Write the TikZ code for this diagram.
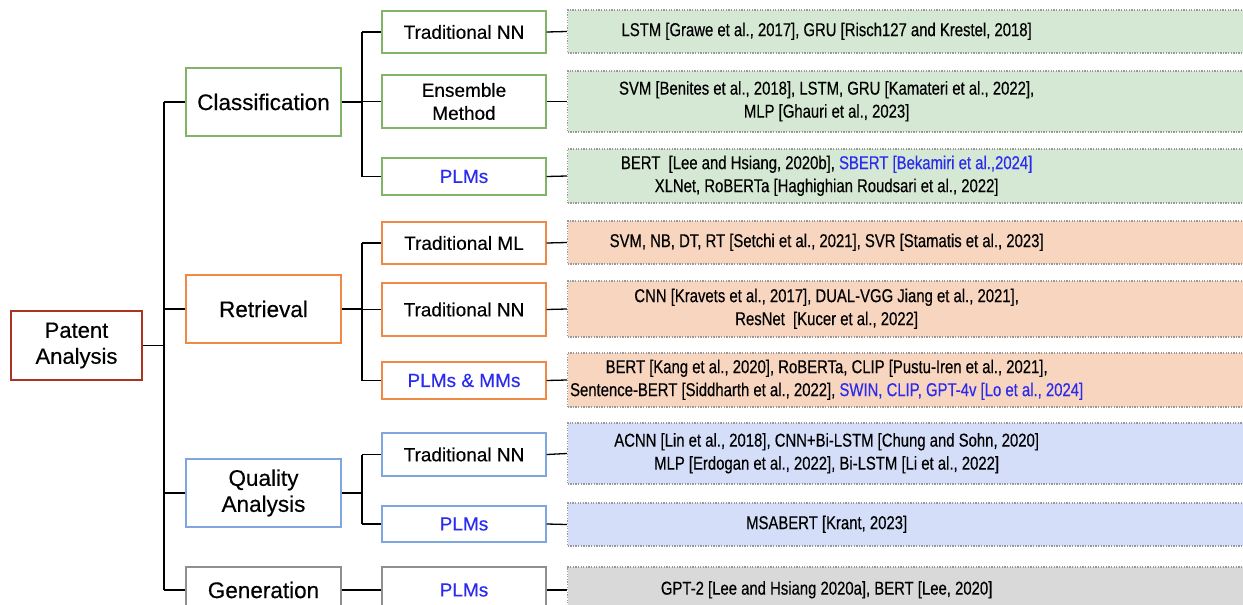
\documentclass[tikz,border=0pt]{standalone}
\usepackage{fontspec}
\setmainfont[FakeBold=0.35]{Liberation Sans}
\newfontfamily\leaffont[FakeStretch=0.8,FakeBold=0.35]{Liberation Sans}
\definecolor{greenF}{HTML}{D5E8D4}
\definecolor{greenD}{HTML}{82B366}
\definecolor{orangeF}{HTML}{F8D5BF}
\definecolor{orangeD}{HTML}{EE8A45}
\definecolor{blueF}{HTML}{D4DEF9}
\definecolor{blueD}{HTML}{7EA6E0}
\definecolor{grayF}{HTML}{D9D9D9}
\definecolor{grayD}{HTML}{8F8F8F}
\definecolor{leafD}{HTML}{999999}
\definecolor{blueT}{HTML}{2B2BF0}
\definecolor{rootD}{HTML}{AC3322}
\newcommand{\lft}[1]{\makebox[690pt][l]{\makebox[518pt][c]{\begin{tabular}{@{}c@{}}#1\end{tabular}}}}
\tikzset{
  rootbox/.style={draw=rootD, line width=2.5pt, fill=white, minimum width=131pt, minimum height=69pt, align=center, inner sep=0pt, font=\fontsize{22}{26}\selectfont},
  lvlone/.style={draw=#1, line width=1.3pt, fill=white, minimum width=155pt, minimum height=68pt, align=center, inner sep=0pt, font=\fontsize{22.5}{26}\selectfont},
  lvltwo/.style={draw=#1, line width=1.3pt, fill=white, minimum width=164pt, align=center, inner sep=0pt, font=\fontsize{19}{23}\selectfont},
  leafbox/.style={draw=leafD, fill=#1, line width=1.3pt, dash pattern=on 1.3pt off 1.3pt, anchor=west, inner xsep=0pt, inner ysep=0pt, font=\leaffont\fontsize{18.6}{23}\selectfont},
  conn/.style={draw=black, line width=1.3pt},
}
\begin{document}
\begin{tikzpicture}[x=1pt,y=-1pt]
\useasboundingbox (0,0) rectangle (1243,605);
\clip (0,0) rectangle (1243,605);
% root and level one
\node[rootbox] (root) at (76.5,345.5) {Patent\\Analysis};
\node[lvlone=greenD] (cls) at (263.5,102) {Classification};
\node[lvlone=orangeD] (ret) at (263.5,309) {Retrieval};
\node[lvlone=blueD] (qa) at (263.5,493) {Quality\\Analysis};
\node[lvlone=grayD, minimum height=46pt] (gen) at (263.5,590) {Generation};
% level two
\node[lvltwo=greenD, minimum height=42pt] (c1) at (464,32) {Traditional NN};
\node[lvltwo=greenD, minimum height=53pt] (c2) at (464,101.5) {Ensemble\\Method};
\node[lvltwo=greenD, minimum height=37pt, text=blueT] (c3) at (464,176.5) {PLMs};
\node[lvltwo=orangeD, minimum height=42pt] (r1) at (464,243) {Traditional ML};
\node[lvltwo=orangeD, minimum height=53pt] (r2) at (464,309.5) {Traditional NN};
\node[lvltwo=orangeD, minimum height=37pt, text=blueT] (r3) at (464,380.5) {PLMs \& MMs};
\node[lvltwo=blueD, minimum height=43pt] (q1) at (464,454.5) {Traditional NN};
\node[lvltwo=blueD, minimum height=36pt, text=blueT] (q2) at (464,524) {PLMs};
\node[lvltwo=grayD, minimum height=46pt, text=blueT] (g1) at (464,590) {PLMs};
% leaves
\node[leafbox=greenF, minimum height=43pt] (lc1) at (567,31.5) {\lft{LSTM [Grawe et al., 2017], GRU [Risch127 and Krestel, 2018]}};
\node[leafbox=greenF, minimum height=61pt] (lc2) at (567,101.5) {\lft{SVM [Benites et al., 2018], LSTM, GRU [Kamateri et al., 2022],\\MLP [Ghauri et al., 2023]}};
\node[leafbox=greenF, minimum height=54pt] (lc3) at (567,176) {\lft{BERT\ \ [Lee and Hsiang, 2020b], \textcolor{blueT}{SBERT [Bekamiri et al.,2024]}\\XLNet, RoBERTa [Haghighian Roudsari et al., 2022]}};
\node[leafbox=orangeF, minimum height=43pt] (lr1) at (567,242.5) {\lft{SVM, NB, DT, RT [Setchi et al., 2021], SVR [Stamatis et al., 2023]}};
\node[leafbox=orangeF, minimum height=56pt] (lr2) at (567,309) {\lft{CNN [Kravets et al., 2017], DUAL-VGG Jiang et al., 2021],\\ResNet\ \ [Kucer et al., 2022]}};
\node[leafbox=orangeF, minimum height=54pt] (lr3) at (567,380) {\lft{BERT [Kang et al., 2020], RoBERTa, CLIP [Pustu-Iren et al., 2021],\\Sentence-BERT [Siddharth et al., 2022], \textcolor{blueT}{SWIN, CLIP, GPT-4v [Lo et al., 2024]}}};
\node[leafbox=blueF, minimum height=61pt] (lq1) at (567,453.5) {\lft{ACNN [Lin et al., 2018], CNN+Bi-LSTM [Chung and Sohn, 2020]\\MLP [Erdogan et al., 2022], Bi-LSTM [Li et al., 2022]}};
\node[leafbox=blueF, minimum height=43pt] (lq2) at (567,524.5) {\lft{MSABERT [Krant, 2023]}};
\node[leafbox=grayF, minimum height=46pt] (lg1) at (567,590) {\lft{GPT-2 [Lee and Hsiang 2020a], BERT [Lee, 2020]}};
% connectors
\coordinate (tr) at (164,0);
\coordinate (br) at (362,0);
\draw[conn] (root.east) -- (root.east -| tr);
\draw[conn] (cls.west -| tr) -- (gen.west -| tr);
\foreach \n in {cls,ret,qa,gen} \draw[conn] (\n.west -| tr) -- (\n.west);
\draw[conn] (cls.east) -- (cls.east -| br);
\draw[conn] (ret.east) -- (ret.east -| br);
\draw[conn] (qa.east) -- (qa.east -| br);
\draw[conn] (br |- c1.west) -- (br |- c3.west);
\draw[conn] (br |- r1.west) -- (br |- r3.west);
\draw[conn] (br |- q1.west) -- (br |- q2.west);
\foreach \n in {c1,c2,c3,r1,r2,r3,q1,q2} \draw[conn] (br |- \n.west) -- (\n.west);
\draw[conn] (gen.east) -- (g1.west);
\draw[conn] (c1.east) -- (lc1.west);
\draw[conn] (c2.east) -- (lc2.west);
\draw[conn] (c3.east) -- (lc3.west);
\draw[conn] (r1.east) -- (lr1.west);
\draw[conn] (r2.east) -- (lr2.west);
\draw[conn] (r3.east) -- (lr3.west);
\draw[conn] (q1.east) -- (lq1.west);
\draw[conn] (q2.east) -- (lq2.west);
\draw[conn] (g1.east) -- (lg1.west);
\end{tikzpicture}
\end{document}
